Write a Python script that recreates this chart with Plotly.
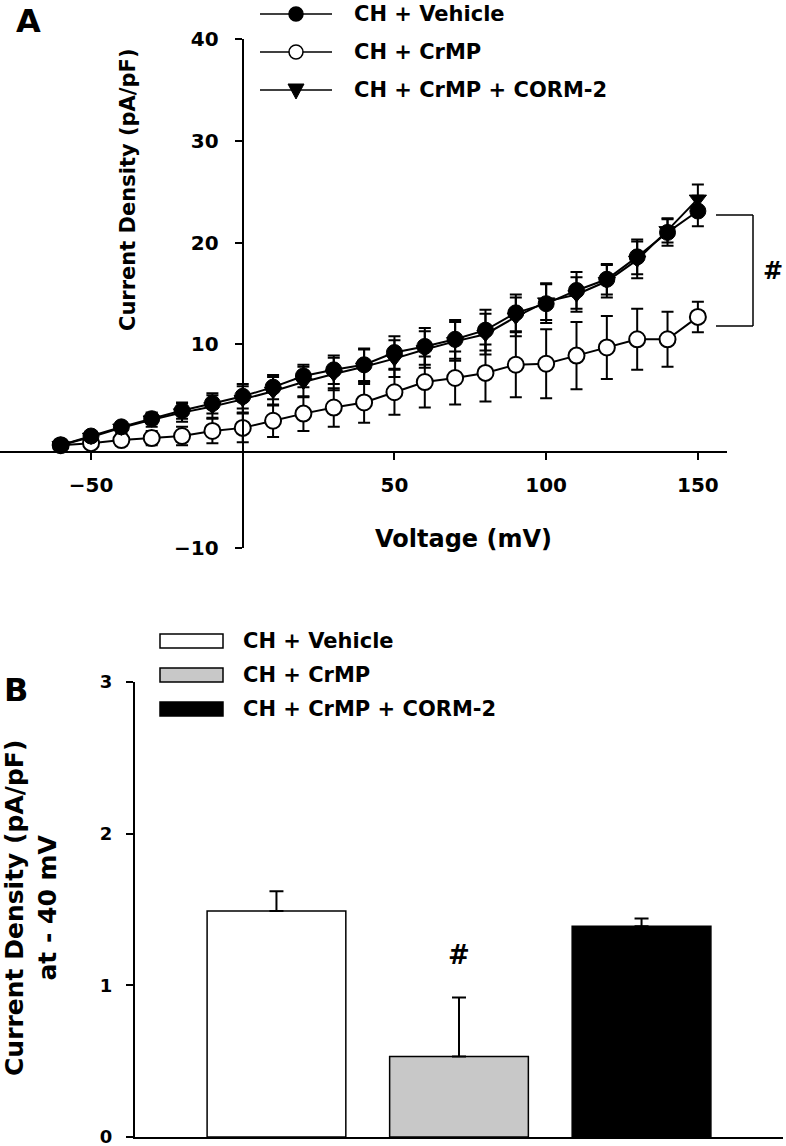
import plotly.graph_objects as go

W, H = 786, 1146
FONT = "DejaVu Sans"

# ---- panel A: current density vs voltage ----
voltage = [-60, -50, -40, -30, -20, -10, 0, 10, 20, 30, 40,
           50, 60, 70, 80, 90, 100, 110, 120, 130, 140, 150]

vehicle_mean = [0.1, 1.0, 1.9, 2.7, 3.5, 4.2, 4.9, 5.8, 6.9, 7.5, 8.0,
                9.2, 9.8, 10.5, 11.4, 13.1, 14.0, 15.3, 16.4, 18.6, 21.0, 23.1]
vehicle_se = [0.2, 0.3, 0.4, 0.5, 0.8, 1.0, 1.2, 1.2, 1.1, 1.4, 1.6,
              1.6, 1.8, 1.9, 2.0, 1.8, 1.9, 1.8, 1.5, 1.7, 1.3, 1.5]

crmp_mean = [0.1, 0.3, 0.6, 0.8, 1.0, 1.5, 1.8, 2.5, 3.2, 3.8, 4.3,
             5.3, 6.3, 6.7, 7.2, 8.0, 8.1, 8.9, 9.7, 10.5, 10.5, 12.7]
crmp_se = [0.2, 0.3, 0.5, 0.7, 0.9, 1.2, 1.4, 1.6, 1.7, 1.9, 2.0,
           2.2, 2.5, 2.6, 2.8, 3.2, 3.4, 3.3, 3.1, 3.0, 2.7, 1.5]

corm_mean = [0.1, 0.9, 1.8, 2.6, 3.3, 3.9, 4.6, 5.4, 6.3, 7.1, 7.8,
             8.6, 9.5, 10.3, 11.0, 12.7, 14.2, 14.9, 16.2, 18.3, 21.2, 24.3]
corm_se = [0.2, 0.4, 0.5, 0.7, 0.9, 1.1, 1.3, 1.4, 1.5, 1.6, 1.7,
           1.8, 1.8, 1.9, 2.0, 1.9, 1.8, 1.7, 1.6, 1.8, 1.2, 1.4]

# ---- panel B: current density at -40 mV ----
groups = ["CH + Vehicle", "CH + CrMP", "CH + CrMP + CORM-2"]
bar_mean = [1.49, 0.53, 1.39]
bar_se = [0.13, 0.39, 0.05]
bar_colors = ["white", "#c8c8c8", "black"]


def px(x):
    return x / W


def py(y):
    return 1 - y / H


def bold(size):
    return dict(family=FONT, size=size, color="black", weight="bold")


def err(se):
    return dict(type="data", array=se, color="black", thickness=2, width=6)


fig = go.Figure()

fig.add_trace(go.Scatter(
    x=voltage, y=crmp_mean, mode="lines+markers", name="CH + CrMP",
    line=dict(color="black", width=2),
    marker=dict(symbol="circle", size=16, color="white", line=dict(color="black", width=2)),
    error_y=err(crmp_se), xaxis="x", yaxis="y"))

fig.add_trace(go.Scatter(
    x=voltage, y=corm_mean, mode="lines+markers", name="CH + CrMP + CORM-2",
    line=dict(color="black", width=2),
    marker=dict(symbol="triangle-down", size=15, color="black", line=dict(color="black", width=1)),
    error_y=err(corm_se), xaxis="x", yaxis="y"))

fig.add_trace(go.Scatter(
    x=voltage, y=vehicle_mean, mode="lines+markers", name="CH + Vehicle",
    line=dict(color="black", width=2),
    marker=dict(symbol="circle", size=16, color="black", line=dict(color="black", width=1)),
    error_y=err(vehicle_se), xaxis="x", yaxis="y"))

fig.add_trace(go.Bar(
    x=groups, y=bar_mean, width=0.76,
    marker=dict(color=bar_colors, line=dict(color="black", width=1.5)),
    error_y=dict(type="data", array=bar_se, arrayminus=[0, 0, 0], symmetric=False,
                 color="black", thickness=2, width=7),
    xaxis="x2", yaxis="y2"))

axis_common = dict(showline=True, linecolor="black", linewidth=2, showgrid=False,
                   zeroline=False, ticks="outside", ticklen=7, tickwidth=2,
                   tickcolor="black", automargin=False, ticklabeloverflow="allow")

fig.update_layout(
    template="none",
    width=W, height=H,
    margin=dict(l=0, r=0, t=0, b=0, autoexpand=False),
    plot_bgcolor="white", paper_bgcolor="white",
    showlegend=False,
    xaxis=dict(axis_common, domain=[0, px(727)], range=[-80, 159.6],
               anchor="free", position=py(452),
               tickvals=[-50, 50, 100, 150], tickfont=bold(20), ticklabelstandoff=8),
    yaxis=dict(axis_common, domain=[py(548), py(39)], range=[-10, 40],
               anchor="free", position=px(242.7),
               tickvals=[-10, 10, 20, 30, 40], tickfont=bold(20), ticklabelstandoff=12),
    xaxis2=dict(axis_common, domain=[px(135), px(783)], range=[-0.775, 2.775],
                anchor="y2", ticks="", showticklabels=False),
    yaxis2=dict(axis_common, domain=[py(1137), py(682)], range=[0, 3],
                anchor="x2", tickvals=[0, 1, 2, 3], tickfont=bold(18), ticklabelstandoff=10),
)

shapes = []
annotations = []


def text(x, y, s, size, **kw):
    annotations.append(dict(x=px(x), y=py(y), xref="paper", yref="paper", text=s,
                            showarrow=False, font=bold(size),
                            yanchor="middle", **dict(dict(xanchor="center"), **kw)))


def line(x0, y0, x1, y1, w=1.5):
    shapes.append(dict(type="line", xref="paper", yref="paper",
                       x0=px(x0), y0=py(y0), x1=px(x1), y1=py(y1),
                       line=dict(color="black", width=w)))


# panel letters and axis titles
text(28, 21, "A", 32)
text(16, 690, "B", 32)
text(128, 190, "Current Density (pA/pF)", 21, textangle=-90)
text(464, 539, "Voltage (mV)", 24)
text(31, 908, "Current Density (pA/pF)<br>at - 40 mV", 25, textangle=-90)

# significance marks
line(716, 215, 753, 215)
line(753, 215, 753, 326)
line(716, 326, 753, 326)
text(773, 271, "#", 24)
text(459, 955, "#", 26)

# legend A (line + marker samples)
legend_a = [("CH + Vehicle", 14, "circle", "black"),
            ("CH + CrMP", 52, "circle", "white"),
            ("CH + CrMP + CORM-2", 90, "tri", "black")]
for label, ry, sym, fill in legend_a:
    line(260, ry, 332, ry)
    if sym == "circle":
        shapes.append(dict(type="circle", xref="paper", yref="paper",
                           x0=px(289), x1=px(303), y0=py(ry - 7), y1=py(ry + 7),
                           fillcolor=fill, line=dict(color="black", width=1.5)))
    else:
        path = "M{},{} L{},{} L{},{} Z".format(px(288), py(ry - 6), px(304), py(ry - 6),
                                               px(296), py(ry + 9))
        shapes.append(dict(type="path", xref="paper", yref="paper", path=path,
                           fillcolor=fill, line=dict(color="black", width=1)))
    text(352, ry, label, 21, xanchor="left")

# legend B (bar swatches)
legend_b = [641, 675, 709]
for label, ry, col in zip(groups, legend_b, bar_colors):
    shapes.append(dict(type="rect", xref="paper", yref="paper",
                       x0=px(160), x1=px(223), y0=py(ry + 7), y1=py(ry - 7),
                       fillcolor=col, line=dict(color="black", width=1.5)))
    text(241, ry, label, 21, xanchor="left")

fig.update_layout(shapes=shapes, annotations=annotations)

# drop the browser's default body margin so the figure sits at the page origin
fig.write_html("out.html", config={"displayModeBar": False},
               post_script="document.body.style.margin='0';document.body.style.overflow='hidden';")
